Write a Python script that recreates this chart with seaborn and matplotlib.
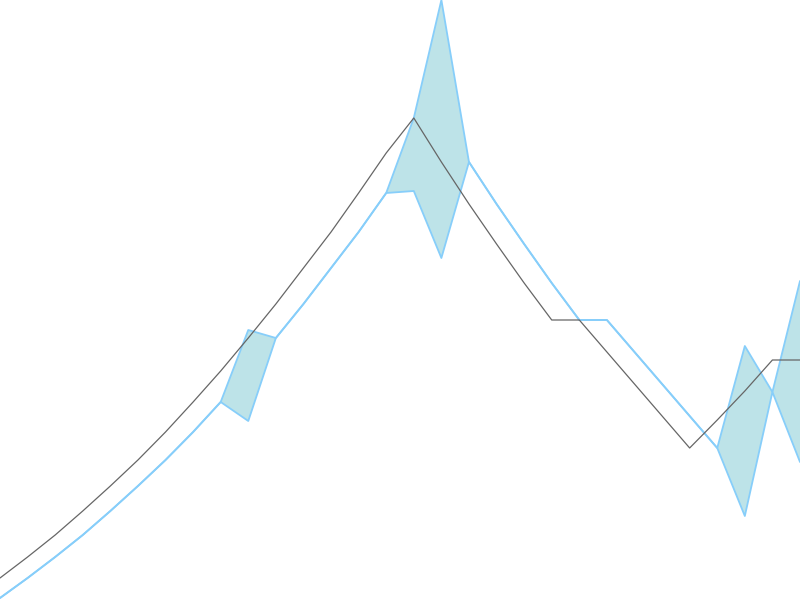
import matplotlib
matplotlib.use("Agg")
import matplotlib.pyplot as plt
import seaborn as sns
import numpy as np
import pandas as pd

# Data (arbitrary units)
steps = list(range(30))
main_line = [22, 43, 65, 89, 114, 140, 168, 198, 229, 262, 296, 332, 368, 407, 447,
             482, 438, 396, 356, 317, 280, 280, 248, 216, 184, 152, 180, 209, 240, 240]
band_upper = [2, 22, 43, 65, 89, 114, 140, 168, 198, 270, 262, 296, 332, 368, 407,
              482, 600, 438, 396, 356, 317, 280, 280, 248, 216, 184, 152, 254, 208, 319]
band_lower = [2, 22, 43, 65, 89, 114, 140, 168, 198, 179, 262, 296, 332, 368, 407,
              409, 342, 438, 396, 356, 317, 280, 280, 248, 216, 184, 152, 84, 208, 138]

df = pd.DataFrame({"step": steps, "main": main_line,
                   "upper": band_upper, "lower": band_lower})

sns.set_theme(style="white")
fig = plt.figure(figsize=(8, 6), dpi=100)
ax = fig.add_axes([0, 0, 1, 1])

band_color = "#87cefa"
ax.fill_between(df["step"], df["lower"], df["upper"], color="#bde3e8", linewidth=0, zorder=1)
sns.lineplot(data=df, x="step", y="upper", ax=ax, color=band_color, linewidth=1.3, zorder=2)
sns.lineplot(data=df, x="step", y="lower", ax=ax, color=band_color, linewidth=1.3, zorder=2)
sns.lineplot(data=df, x="step", y="main", ax=ax, color="#666666", linewidth=0.9, zorder=3)

ax.set_xlim(0, 29)
ax.set_ylim(0, 600)
ax.set_axis_off()

fig.savefig("out.png", dpi=100)
